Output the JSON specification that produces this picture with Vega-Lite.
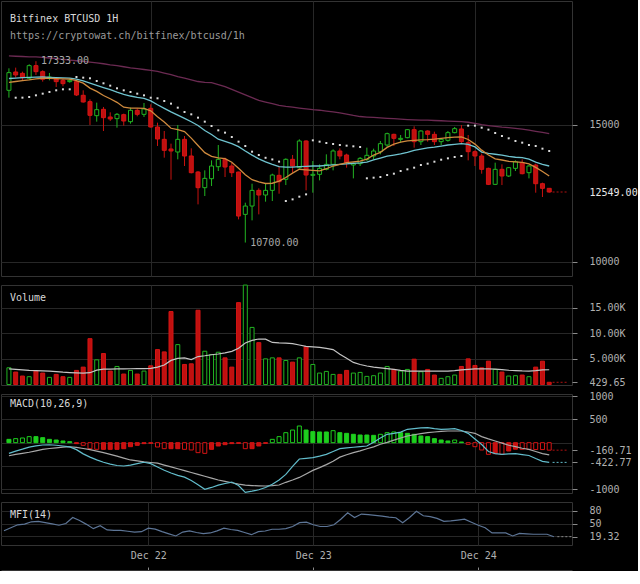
{
"$schema": "https://vega.github.io/schema/vega-lite/v6.json",
"background": "#000000",
"padding": 0,
"spacing": 9,
"bounds": "flush",
"config": {
  "view": {"stroke": "#333333", "strokeWidth": 1},
  "font": "DejaVu Sans Mono",
  "axis": {"gridColor": "#272727", "gridWidth": 1, "labelFont": "DejaVu Sans Mono", "labelFontSize": 10, "labelColor": "#b0b0b0", "tickColor": "#8a8a8a"},
  "title": {"font": "DejaVu Sans Mono", "fontSize": 10, "fontWeight": "normal", "color": "#d8d8d8", "anchor": "start", "frame": "group", "subtitleFont": "DejaVu Sans Mono", "subtitleFontSize": 10, "subtitleColor": "#9a9a9a"}
},
"datasets": {
"ohlc": [
{"t":"2017-12-21T03:00","o":16268,"h":17073,"l":16000,"c":16915,"v":3258,"vma":3050,"ma1":17525,"ma2":16700,"ema":16560,"sar":null,"macd":-230,"sig":-280,"hist":71,"mfi":33},
{"t":"2017-12-21T04:00","o":16939,"h":17098,"l":16732,"c":16830,"v":2420,"vma":2950,"ma1":17515,"ma2":16715,"ema":16590,"sar":15998,"macd":-180,"sig":-250,"hist":86,"mfi":40},
{"t":"2017-12-21T05:00","o":16890,"h":16951,"l":16634,"c":16732,"v":1646,"vma":2850,"ma1":17505,"ma2":16730,"ema":16620,"sar":16000,"macd":-140,"sig":-228,"hist":100,"mfi":47},
{"t":"2017-12-21T06:00","o":16708,"h":17220,"l":16671,"c":17171,"v":1517,"vma":2750,"ma1":17495,"ma2":16740,"ema":16650,"sar":16024,"macd":-95,"sig":-205,"hist":129,"mfi":48.4},
{"t":"2017-12-21T07:00","o":17171,"h":17333,"l":16830,"c":16951,"v":2614,"vma":2700,"ma1":17490,"ma2":16750,"ema":16690,"sar":16085,"macd":-68,"sig":-175,"hist":129,"mfi":54},
{"t":"2017-12-21T08:00","o":16951,"h":17000,"l":16586,"c":16671,"v":2227,"vma":2650,"ma1":17470,"ma2":16755,"ema":16710,"sar":16146,"macd":-50,"sig":-145,"hist":107,"mfi":55},
{"t":"2017-12-21T09:00","o":16708,"h":16903,"l":16634,"c":16756,"v":1388,"vma":2600,"ma1":17450,"ma2":16745,"ema":16705,"sar":16208,"macd":-45,"sig":-125,"hist":71,"mfi":52},
{"t":"2017-12-21T10:00","o":16683,"h":16732,"l":16390,"c":16586,"v":1968,"vma":2500,"ma1":17425,"ma2":16735,"ema":16695,"sar":16268,"macd":-55,"sig":-110,"hist":57,"mfi":49},
{"t":"2017-12-21T11:00","o":16634,"h":16683,"l":16415,"c":16512,"v":1517,"vma":2400,"ma1":17400,"ma2":16725,"ema":16690,"sar":16305,"macd":-72,"sig":-95,"hist":36,"mfi":46},
{"t":"2017-12-21T12:00","o":16586,"h":16708,"l":16549,"c":16634,"v":1388,"vma":2330,"ma1":17375,"ma2":16712,"ema":16680,"sar":16305,"macd":-90,"sig":-88,"hist":21,"mfi":50},
{"t":"2017-12-21T13:00","o":16586,"h":16634,"l":16061,"c":16098,"v":2743,"vma":2270,"ma1":17350,"ma2":16680,"ema":16620,"sar":16756,"macd":-150,"sig":-100,"hist":-21,"mfi":64},
{"t":"2017-12-21T14:00","o":16086,"h":16268,"l":15817,"c":15842,"v":3388,"vma":2230,"ma1":17330,"ma2":16610,"ema":16530,"sar":16732,"macd":-240,"sig":-125,"hist":-57,"mfi":57},
{"t":"2017-12-21T15:00","o":15854,"h":15939,"l":15000,"c":15354,"v":8935,"vma":2300,"ma1":17300,"ma2":16530,"ema":16350,"sar":16708,"macd":-310,"sig":-150,"hist":-129,"mfi":48},
{"t":"2017-12-21T16:00","o":15341,"h":15817,"l":15122,"c":15561,"v":4807,"vma":2800,"ma1":17270,"ma2":16450,"ema":16230,"sar":16610,"macd":-370,"sig":-180,"hist":-143,"mfi":38},
{"t":"2017-12-21T17:00","o":15573,"h":15659,"l":14780,"c":15268,"v":6032,"vma":2980,"ma1":17240,"ma2":16370,"ema":16080,"sar":16525,"macd":-420,"sig":-215,"hist":-143,"mfi":45},
{"t":"2017-12-21T18:00","o":15293,"h":15464,"l":15146,"c":15220,"v":2614,"vma":3000,"ma1":17200,"ma2":16290,"ema":15960,"sar":16439,"macd":-460,"sig":-250,"hist":-143,"mfi":35},
{"t":"2017-12-21T19:00","o":15232,"h":15439,"l":14902,"c":15390,"v":3516,"vma":3030,"ma1":17170,"ma2":16200,"ema":15830,"sar":16342,"macd":-490,"sig":-290,"hist":-143,"mfi":34},
{"t":"2017-12-21T20:00","o":15378,"h":15415,"l":14976,"c":15146,"v":2033,"vma":3060,"ma1":17130,"ma2":16120,"ema":15650,"sar":16268,"macd":-500,"sig":-330,"hist":-129,"mfi":34},
{"t":"2017-12-21T21:00","o":15122,"h":15634,"l":15049,"c":15537,"v":2743,"vma":3070,"ma1":17090,"ma2":16060,"ema":15620,"sar":16208,"macd":-480,"sig":-371,"hist":-86,"mfi":32},
{"t":"2017-12-21T22:00","o":15537,"h":15610,"l":15317,"c":15390,"v":2033,"vma":3090,"ma1":17060,"ma2":16010,"ema":15615,"sar":16146,"macd":-450,"sig":-390,"hist":-57,"mfi":30},
{"t":"2017-12-21T23:00","o":15390,"h":15805,"l":15293,"c":15585,"v":2614,"vma":3110,"ma1":17030,"ma2":15970,"ema":15610,"sar":16085,"macd":-420,"sig":-410,"hist":-21,"mfi":31},
{"t":"2017-12-22T00:00","o":15610,"h":15756,"l":14902,"c":14927,"v":3646,"vma":3130,"ma1":17000,"ma2":15880,"ema":15520,"sar":15998,"macd":-450,"sig":-425,"hist":-14,"mfi":39},
{"t":"2017-12-22T01:00","o":14927,"h":15085,"l":14232,"c":14488,"v":6806,"vma":3400,"ma1":16960,"ma2":15740,"ema":15300,"sar":15976,"macd":-520,"sig":-440,"hist":-93,"mfi":37},
{"t":"2017-12-22T02:00","o":14475,"h":14780,"l":13805,"c":14073,"v":6355,"vma":3800,"ma1":16900,"ma2":15610,"ema":15110,"sar":15878,"macd":-590,"sig":-480,"hist":-129,"mfi":31},
{"t":"2017-12-22T03:00","o":14122,"h":14317,"l":12999,"c":14049,"v":14224,"vma":4700,"ma1":16840,"ma2":15480,"ema":14880,"sar":15781,"macd":-650,"sig":-520,"hist":-129,"mfi":26},
{"t":"2017-12-22T04:00","o":14012,"h":15000,"l":13744,"c":14475,"v":7774,"vma":5100,"ma1":16770,"ma2":15360,"ema":14830,"sar":15634,"macd":-700,"sig":-560,"hist":-129,"mfi":21},
{"t":"2017-12-22T05:00","o":14475,"h":14597,"l":13500,"c":13866,"v":3904,"vma":5194,"ma1":16710,"ma2":15240,"ema":14760,"sar":15476,"macd":-740,"sig":-600,"hist":-143,"mfi":30},
{"t":"2017-12-22T06:00","o":13866,"h":14146,"l":13231,"c":13256,"v":4033,"vma":4850,"ma1":16650,"ma2":15120,"ema":14520,"sar":15390,"macd":-810,"sig":-640,"hist":-157,"mfi":32.6},
{"t":"2017-12-22T07:00","o":13280,"h":13317,"l":12097,"c":12707,"v":14482,"vma":5450,"ma1":16590,"ma2":14980,"ema":14250,"sar":15268,"macd":-900,"sig":-680,"hist":-214,"mfi":29},
{"t":"2017-12-22T08:00","o":12707,"h":13341,"l":12402,"c":13048,"v":6484,"vma":5600,"ma1":16560,"ma2":14800,"ema":13990,"sar":15122,"macd":-1000,"sig":-720,"hist":-229,"mfi":26.3},
{"t":"2017-12-22T09:00","o":13036,"h":13707,"l":12768,"c":13500,"v":5839,"vma":5800,"ma1":16550,"ma2":14650,"ema":13850,"sar":14963,"macd":-960,"sig":-760,"hist":-143,"mfi":28},
{"t":"2017-12-22T10:00","o":13475,"h":14268,"l":13317,"c":13744,"v":6290,"vma":5950,"ma1":16480,"ma2":14480,"ema":13800,"sar":14805,"macd":-910,"sig":-800,"hist":-71,"mfi":33},
{"t":"2017-12-22T11:00","o":13744,"h":13805,"l":13097,"c":13463,"v":5194,"vma":6150,"ma1":16400,"ma2":14400,"ema":13770,"sar":14720,"macd":-875,"sig":-830,"hist":-43,"mfi":39},
{"t":"2017-12-22T12:00","o":13500,"h":13622,"l":13097,"c":13256,"v":3388,"vma":6450,"ma1":16300,"ma2":14320,"ema":13640,"sar":14561,"macd":-845,"sig":-860,"hist":-21,"mfi":36},
{"t":"2017-12-22T13:00","o":13280,"h":13292,"l":11548,"c":11670,"v":15965,"vma":7050,"ma1":16200,"ma2":14210,"ema":13420,"sar":14390,"macd":-920,"sig":-890,"hist":-14,"mfi":34},
{"t":"2017-12-22T14:00","o":11731,"h":12158,"l":10700,"c":12036,"v":19384,"vma":8100,"ma1":16100,"ma2":14050,"ema":13180,"sar":14232,"macd":-1065,"sig":-912,"hist":-129,"mfi":29},
{"t":"2017-12-22T15:00","o":12036,"h":12853,"l":11512,"c":12609,"v":11128,"vma":8600,"ma1":16000,"ma2":13900,"ema":13000,"sar":14024,"macd":-1040,"sig":-920,"hist":-129,"mfi":24},
{"t":"2017-12-22T16:00","o":12609,"h":12683,"l":11731,"c":12439,"v":8160,"vma":8870,"ma1":15900,"ma2":13760,"ema":12920,"sar":13902,"macd":-1010,"sig":-926,"hist":-71,"mfi":31},
{"t":"2017-12-22T17:00","o":12439,"h":12853,"l":12195,"c":12609,"v":5000,"vma":8830,"ma1":15840,"ma2":13650,"ema":12860,"sar":13800,"macd":-960,"sig":-929,"hist":-14,"mfi":32.6},
{"t":"2017-12-22T18:00","o":12609,"h":13219,"l":12219,"c":13170,"v":5194,"vma":8200,"ma1":15780,"ma2":13560,"ema":12870,"sar":13740,"macd":-890,"sig":-920,"hist":71,"mfi":36.6},
{"t":"2017-12-22T19:00","o":13158,"h":13500,"l":12487,"c":12926,"v":5194,"vma":8100,"ma1":15720,"ma2":13480,"ema":12950,"sar":13660,"macd":-800,"sig":-907,"hist":129,"mfi":36.6},
{"t":"2017-12-22T20:00","o":13012,"h":13780,"l":12804,"c":13744,"v":4678,"vma":8050,"ma1":15680,"ma2":13460,"ema":13080,"sar":12219,"macd":-680,"sig":-850,"hist":214,"mfi":38},
{"t":"2017-12-22T21:00","o":13744,"h":13902,"l":13256,"c":13500,"v":4355,"vma":7950,"ma1":15650,"ma2":13460,"ema":13240,"sar":12280,"macd":-510,"sig":-800,"hist":271,"mfi":43},
{"t":"2017-12-22T22:00","o":13439,"h":14476,"l":13414,"c":14415,"v":5194,"vma":7700,"ma1":15620,"ma2":13480,"ema":13380,"sar":12378,"macd":-350,"sig":-745,"hist":357,"mfi":52},
{"t":"2017-12-22T23:00","o":14415,"h":14439,"l":12609,"c":13170,"v":7387,"vma":7450,"ma1":15590,"ma2":13490,"ema":13360,"sar":12463,"macd":-335,"sig":-670,"hist":271,"mfi":53},
{"t":"2017-12-23T00:00","o":13158,"h":13683,"l":12524,"c":13195,"v":3904,"vma":7350,"ma1":15560,"ma2":13500,"ema":13340,"sar":14439,"macd":-322,"sig":-595,"hist":236,"mfi":47},
{"t":"2017-12-23T01:00","o":13195,"h":13561,"l":12975,"c":13414,"v":2227,"vma":7220,"ma1":15540,"ma2":13500,"ema":13320,"sar":14390,"macd":-290,"sig":-535,"hist":229,"mfi":43},
{"t":"2017-12-23T02:00","o":13378,"h":13927,"l":13341,"c":13561,"v":2549,"vma":7050,"ma1":15510,"ma2":13520,"ema":13400,"sar":14341,"macd":-250,"sig":-470,"hist":229,"mfi":43},
{"t":"2017-12-23T03:00","o":13561,"h":14110,"l":13341,"c":14049,"v":1968,"vma":6800,"ma1":15480,"ma2":13540,"ema":13500,"sar":14305,"macd":-190,"sig":-400,"hist":257,"mfi":47},
{"t":"2017-12-23T04:00","o":14049,"h":14146,"l":13744,"c":13866,"v":1968,"vma":5900,"ma1":15440,"ma2":13560,"ema":13560,"sar":14268,"macd":-128,"sig":-310,"hist":214,"mfi":60},
{"t":"2017-12-23T05:00","o":13902,"h":13951,"l":13439,"c":13622,"v":2743,"vma":5100,"ma1":15400,"ma2":13580,"ema":13620,"sar":14244,"macd":-110,"sig":-260,"hist":200,"mfi":75},
{"t":"2017-12-23T06:00","o":13536,"h":13622,"l":13048,"c":13585,"v":2227,"vma":4300,"ma1":15350,"ma2":13600,"ema":13650,"sar":14220,"macd":-98,"sig":-215,"hist":179,"mfi":64},
{"t":"2017-12-23T07:00","o":13585,"h":13829,"l":13500,"c":13780,"v":2355,"vma":3900,"ma1":15310,"ma2":13615,"ema":13680,"sar":14195,"macd":-85,"sig":-175,"hist":164,"mfi":72},
{"t":"2017-12-23T08:00","o":13744,"h":14171,"l":13683,"c":13890,"v":1581,"vma":3600,"ma1":15290,"ma2":13640,"ema":13750,"sar":13050,"macd":-71,"sig":-130,"hist":164,"mfi":70.5},
{"t":"2017-12-23T09:00","o":13866,"h":14134,"l":13744,"c":14049,"v":1710,"vma":3400,"ma1":15275,"ma2":13720,"ema":13900,"sar":13073,"macd":10,"sig":-90,"hist":157,"mfi":69},
{"t":"2017-12-23T10:00","o":14024,"h":14415,"l":13927,"c":14317,"v":2227,"vma":3250,"ma1":15260,"ma2":13790,"ema":14000,"sar":13097,"macd":100,"sig":-35,"hist":179,"mfi":67},
{"t":"2017-12-23T11:00","o":14268,"h":14720,"l":14195,"c":14683,"v":3516,"vma":3100,"ma1":15245,"ma2":13860,"ema":14180,"sar":13170,"macd":179,"sig":5,"hist":214,"mfi":65},
{"t":"2017-12-23T12:00","o":14658,"h":14683,"l":14232,"c":14512,"v":2936,"vma":2950,"ma1":15230,"ma2":13900,"ema":14300,"sar":13219,"macd":200,"sig":55,"hist":229,"mfi":63.4},
{"t":"2017-12-23T13:00","o":14475,"h":14634,"l":14354,"c":14512,"v":2614,"vma":2750,"ma1":15215,"ma2":13940,"ema":14370,"sar":13317,"macd":225,"sig":100,"hist":214,"mfi":51.6},
{"t":"2017-12-23T14:00","o":14536,"h":14854,"l":14512,"c":14829,"v":2936,"vma":2620,"ma1":15200,"ma2":14000,"ema":14420,"sar":13378,"macd":286,"sig":143,"hist":200,"mfi":64},
{"t":"2017-12-23T15:00","o":14829,"h":14951,"l":14171,"c":14390,"v":4936,"vma":2614,"ma1":15190,"ma2":14070,"ema":14440,"sar":13439,"macd":300,"sig":170,"hist":179,"mfi":78.4},
{"t":"2017-12-23T16:00","o":14390,"h":14805,"l":14268,"c":14780,"v":2485,"vma":2614,"ma1":15180,"ma2":14120,"ema":14455,"sar":13536,"macd":315,"sig":195,"hist":143,"mfi":68},
{"t":"2017-12-23T17:00","o":14780,"h":14805,"l":14390,"c":14658,"v":2936,"vma":2614,"ma1":15175,"ma2":14160,"ema":14462,"sar":13585,"macd":321,"sig":214,"hist":129,"mfi":66},
{"t":"2017-12-23T18:00","o":14658,"h":14756,"l":14268,"c":14390,"v":1839,"vma":2614,"ma1":15165,"ma2":14190,"ema":14480,"sar":13658,"macd":300,"sig":228,"hist":86,"mfi":62},
{"t":"2017-12-23T19:00","o":14390,"h":14512,"l":14268,"c":14475,"v":1194,"vma":2614,"ma1":15155,"ma2":14230,"ema":14510,"sar":13731,"macd":285,"sig":240,"hist":57,"mfi":55},
{"t":"2017-12-23T20:00","o":14439,"h":14780,"l":14390,"c":14720,"v":1517,"vma":2620,"ma1":15145,"ma2":14268,"ema":14536,"sar":13780,"macd":292,"sig":250,"hist":36,"mfi":56},
{"t":"2017-12-23T21:00","o":14720,"h":14927,"l":14695,"c":14866,"v":1839,"vma":2700,"ma1":15135,"ma2":14290,"ema":14555,"sar":13829,"macd":300,"sig":250,"hist":57,"mfi":58},
{"t":"2017-12-23T22:00","o":14854,"h":15000,"l":14341,"c":14390,"v":3516,"vma":2850,"ma1":15122,"ma2":14316,"ema":14561,"sar":13866,"macd":260,"sig":250,"hist":14,"mfi":60},
{"t":"2017-12-23T23:00","o":14354,"h":14634,"l":13707,"c":14024,"v":5000,"vma":2950,"ma1":15100,"ma2":14290,"ema":14470,"sar":14976,"macd":200,"sig":228,"hist":-36,"mfi":53},
{"t":"2017-12-24T00:00","o":14024,"h":14073,"l":13500,"c":13866,"v":3710,"vma":3040,"ma1":15060,"ma2":14200,"ema":14300,"sar":14976,"macd":80,"sig":200,"hist":-86,"mfi":46},
{"t":"2017-12-24T01:00","o":13866,"h":13951,"l":13219,"c":13378,"v":3258,"vma":3060,"ma1":15010,"ma2":14010,"ema":14080,"sar":14902,"macd":-40,"sig":130,"hist":-157,"mfi":40},
{"t":"2017-12-24T02:00","o":13414,"h":13439,"l":12804,"c":12829,"v":4549,"vma":3030,"ma1":14980,"ma2":13960,"ema":13900,"sar":14829,"macd":-190,"sig":80,"hist":-250,"mfi":28},
{"t":"2017-12-24T03:00","o":12829,"h":13622,"l":12804,"c":13378,"v":2936,"vma":3000,"ma1":14950,"ma2":13930,"ema":13760,"sar":14707,"macd":-235,"sig":35,"hist":-236,"mfi":28},
{"t":"2017-12-24T04:00","o":13378,"h":13561,"l":12804,"c":13134,"v":2420,"vma":2900,"ma1":14920,"ma2":13900,"ema":13720,"sar":14597,"macd":-250,"sig":-10,"hist":-250,"mfi":28},
{"t":"2017-12-24T05:00","o":13134,"h":13463,"l":13097,"c":13439,"v":1646,"vma":2780,"ma1":14900,"ma2":13850,"ema":13670,"sar":14512,"macd":-240,"sig":-55,"hist":-179,"mfi":21},
{"t":"2017-12-24T06:00","o":13414,"h":13707,"l":13317,"c":13658,"v":1710,"vma":2700,"ma1":14880,"ma2":13820,"ema":13650,"sar":14415,"macd":-236,"sig":-85,"hist":-140,"mfi":27},
{"t":"2017-12-24T07:00","o":13622,"h":13744,"l":13195,"c":13219,"v":1839,"vma":2640,"ma1":14850,"ma2":13805,"ema":13630,"sar":14354,"macd":-255,"sig":-120,"hist":-142,"mfi":26},
{"t":"2017-12-24T08:00","o":13256,"h":13536,"l":13048,"c":13500,"v":1517,"vma":2620,"ma1":14810,"ma2":13750,"ema":13580,"sar":14268,"macd":-275,"sig":-145,"hist":-144,"mfi":25},
{"t":"2017-12-24T09:00","o":13536,"h":13585,"l":12524,"c":12853,"v":3388,"vma":2720,"ma1":14770,"ma2":13640,"ema":13450,"sar":14232,"macd":-340,"sig":-190,"hist":-146,"mfi":25},
{"t":"2017-12-24T10:00","o":12853,"h":12890,"l":12366,"c":12683,"v":4549,"vma":2860,"ma1":14730,"ma2":13560,"ema":13300,"sar":14134,"macd":-400,"sig":-235,"hist":-148,"mfi":25},
{"t":"2017-12-24T11:00","o":12683,"h":12683,"l":12524,"c":12549,"v":429.65,"vma":2870,"ma1":14683,"ma2":13500,"ema":13134,"sar":14049,"macd":-422.77,"sig":-262,"hist":-160.71,"mfi":19.32}
],
"ann": [
{"t":"2017-12-21T07:00","p":17333,"label":"17333.00"},
{"t":"2017-12-22T14:00","p":10700,"label":"10700.00"}
],
"last": [
{"t":"2017-12-24T11:30","t2":"2017-12-24T13:38","price":12549,"vol":429.65,"hist":-160.71,"macd":-422.77,"mfi":19.32}
]
},
"vconcat": [
{
  "width": 571, "height": 275,
  "title": {"text": "Bitfinex BTCUSD 1H", "subtitle": "https://cryptowat.ch/bitfinex/btcusd/1h", "offset": -40, "dx": 9, "subtitlePadding": 7},
  "data": {"name": "ohlc"},
  "encoding": {"x": {"field": "t", "type": "temporal", "scale": {"domain": [{"year":2017,"month":12,"date":21,"hours":2,"minutes":34},{"year":2017,"month":12,"date":24,"hours":13,"minutes":38}]}, "axis": {"values": [{"year":2017,"month":12,"date":22},{"year":2017,"month":12,"date":23},{"year":2017,"month":12,"date":24}], "labels": false, "ticks": false, "domain": false, "grid": true, "title": null}}},
  "layer": [
    {"mark": {"type": "line", "color": "#6b2a52", "strokeWidth": 1.3},
     "encoding": {"y": {"field": "ma1", "type": "quantitative", "scale": {"domain": [9477, 19535], "nice": false, "zero": false}, "axis": {"orient": "left", "values": [10000, 15000], "grid": true, "labels": false, "ticks": false, "domain": false, "title": null, "minExtent": 0, "maxExtent": 0}}}},
    {"mark": {"type": "rule", "strokeWidth": 1},
     "encoding": {"y": {"field": "l", "type": "quantitative", "scale": {"domain": [9477, 19535], "nice": false, "zero": false}, "axis": {"orient": "right", "values": [10000, 12549, 15000], "grid": false, "ticks": true, "tickSize": 5, "labelPadding": 12, "domain": false, "title": null, "labelFlush": false, "labelOverlap": false, "labelExpr": "datum.value == 12549 ? '12549.00' : format(datum.value, 'd')", "labelColor": {"condition": {"test": "datum.value == 12549", "value": "#e8e8e8"}, "value": "#b0b0b0"}, "tickOpacity": {"condition": {"test": "datum.value == 12549", "value": 0}, "value": 1}}},
                  "y2": {"field": "h"},
                  "color": {"condition": {"test": "datum.c >= datum.o", "value": "#22b422"}, "value": "#c8120f"}}},
    {"mark": {"type": "bar", "size": 4, "strokeWidth": 1},
     "encoding": {"y": {"field": "o", "type": "quantitative", "scale": {"domain": [9477, 19535], "nice": false, "zero": false}, "axis": null},
                  "y2": {"field": "c"},
                  "fill": {"condition": {"test": "datum.c >= datum.o", "value": "#000000"}, "value": "#c0100f"},
                  "stroke": {"condition": {"test": "datum.c >= datum.o", "value": "#22b422"}, "value": "#d41414"}}},
    {"mark": {"type": "line", "color": "#6fc3cf", "strokeWidth": 1.3},
     "encoding": {"y": {"field": "ma2", "type": "quantitative", "scale": {"domain": [9477, 19535], "nice": false, "zero": false}, "axis": null}}},
    {"mark": {"type": "line", "color": "#cf8a3e", "strokeWidth": 1.3},
     "encoding": {"y": {"field": "ema", "type": "quantitative", "scale": {"domain": [9477, 19535], "nice": false, "zero": false}, "axis": null}}},
    {"mark": {"type": "square", "size": 4, "color": "#dcdcdc", "opacity": 1, "filled": true},
     "encoding": {"y": {"field": "sar", "type": "quantitative", "scale": {"domain": [9477, 19535], "nice": false, "zero": false}, "axis": null}}},
    {"data": {"name": "ann"},
     "mark": {"type": "text", "align": "left", "baseline": "middle", "dx": 5, "color": "#a8a8a8", "font": "DejaVu Sans Mono", "fontSize": 10},
     "encoding": {"y": {"field": "p", "type": "quantitative", "scale": {"domain": [9477, 19535], "nice": false, "zero": false}, "axis": null}, "text": {"field": "label"}}},
    {"data": {"name": "last"},
     "mark": {"type": "rule", "strokeDash": [2, 2], "color": "#b01010"},
     "encoding": {"x2": {"field": "t2"}, "y": {"field": "price", "type": "quantitative", "scale": {"domain": [9477, 19535], "nice": false, "zero": false}, "axis": null}}}
  ]
},
{
  "width": 571, "height": 100,
  "title": {"text": "Volume", "offset": -18, "dx": 9},
  "data": {"name": "ohlc"},
  "encoding": {"x": {"field": "t", "type": "temporal", "scale": {"domain": [{"year":2017,"month":12,"date":21,"hours":2,"minutes":34},{"year":2017,"month":12,"date":24,"hours":13,"minutes":38}]}, "axis": {"values": [{"year":2017,"month":12,"date":22},{"year":2017,"month":12,"date":23},{"year":2017,"month":12,"date":24}], "labels": false, "ticks": false, "domain": false, "grid": true, "title": null}}},
  "layer": [
    {"mark": {"type": "bar", "size": 4, "strokeWidth": 1},
     "encoding": {"y": {"field": "v", "type": "quantitative", "scale": {"domain": [-100, 19400], "nice": false, "zero": false}, "axis": {"orient": "left", "values": [5000, 10000, 15000], "grid": true, "labels": false, "ticks": false, "domain": false, "title": null, "minExtent": 0, "maxExtent": 0}},
                  "y2": {"datum": 0},
                  "fill": {"condition": {"test": "datum.c >= datum.o", "value": "#000000"}, "value": "#c0100f"},
                  "stroke": {"condition": {"test": "datum.c >= datum.o", "value": "#22b422"}, "value": "#d41414"}}},
    {"mark": {"type": "line", "color": "#c4c4c4", "strokeWidth": 1.2},
     "encoding": {"y": {"field": "vma", "type": "quantitative", "scale": {"domain": [-100, 19400], "nice": false, "zero": false}, "axis": {"orient": "right", "values": [429.65, 5000, 10000, 15000], "grid": false, "ticks": true, "tickSize": 5, "labelPadding": 12, "domain": false, "title": null, "labelFlush": false, "labelOverlap": false, "labelExpr": "datum.value == 5000 ? '5.000K' : datum.value == 10000 ? '10.00K' : datum.value == 15000 ? '15.00K' : '429.65'"}}}},
    {"data": {"name": "last"},
     "mark": {"type": "rule", "strokeDash": [2, 2], "color": "#b01010"},
     "encoding": {"x2": {"field": "t2"}, "y": {"field": "vol", "type": "quantitative", "scale": {"domain": [-100, 19400], "nice": false, "zero": false}, "axis": null}}}
  ]
},
{
  "width": 571, "height": 99,
  "title": {"text": "MACD(10,26,9)", "offset": -18, "dx": 9},
  "data": {"name": "ohlc"},
  "encoding": {"x": {"field": "t", "type": "temporal", "scale": {"domain": [{"year":2017,"month":12,"date":21,"hours":2,"minutes":34},{"year":2017,"month":12,"date":24,"hours":13,"minutes":38}]}, "axis": {"values": [{"year":2017,"month":12,"date":22},{"year":2017,"month":12,"date":23},{"year":2017,"month":12,"date":24}], "labels": false, "ticks": false, "domain": false, "grid": true, "title": null}}},
  "layer": [
    {"transform": [{"window": [{"op": "lag", "field": "hist", "as": "prev"}], "sort": [{"field": "t"}]}],
     "mark": {"type": "bar", "size": 4, "strokeWidth": 1},
     "encoding": {"y": {"field": "hist", "type": "quantitative", "scale": {"domain": [-1079, 1043], "nice": false, "zero": false}, "axis": {"orient": "left", "values": [-1000, -500, 0, 500, 1000], "grid": true, "labels": false, "ticks": false, "domain": false, "title": null, "minExtent": 0, "maxExtent": 0}},
                  "y2": {"datum": 0},
                  "fill": {"condition": [{"test": "datum.prev != null && abs(datum.hist) > abs(datum.prev)", "value": "#000000"}, {"test": "datum.hist >= 0", "value": "#1ecf1e"}], "value": "#c8100f"},
                  "stroke": {"condition": {"test": "datum.hist >= 0", "value": "#1ecf1e"}, "value": "#d41414"}}},
    {"mark": {"type": "line", "color": "#a8a8a8", "strokeWidth": 1.2},
     "encoding": {"y": {"field": "sig", "type": "quantitative", "scale": {"domain": [-1079, 1043], "nice": false, "zero": false}, "axis": {"orient": "right", "values": [1000, 500, -160.71, -422.77, -1000], "grid": false, "ticks": true, "tickSize": 5, "labelPadding": 12, "domain": false, "title": null, "labelFlush": false, "labelOverlap": false, "labelExpr": "(datum.value < 0 ? '-' : '') + (abs(datum.value) == 1000 || abs(datum.value) == 500 ? format(abs(datum.value), 'd') : format(abs(datum.value), '.2f'))"}}}},
    {"mark": {"type": "line", "color": "#62bccb", "strokeWidth": 1.2},
     "encoding": {"y": {"field": "macd", "type": "quantitative", "scale": {"domain": [-1079, 1043], "nice": false, "zero": false}, "axis": null}}},
    {"data": {"name": "last"},
     "mark": {"type": "rule", "strokeDash": [2, 2], "color": "#b01010"},
     "encoding": {"x2": {"field": "t2"}, "y": {"field": "hist", "type": "quantitative", "scale": {"domain": [-1079, 1043], "nice": false, "zero": false}, "axis": null}}},
    {"data": {"name": "last"},
     "mark": {"type": "rule", "strokeDash": [2, 2], "color": "#62bccb"},
     "encoding": {"x2": {"field": "t2"}, "y": {"field": "macd", "type": "quantitative", "scale": {"domain": [-1079, 1043], "nice": false, "zero": false}, "axis": null}}}
  ]
},
{
  "width": 571, "height": 43,
  "title": {"text": "MFI(14)", "offset": -18, "dx": 9},
  "data": {"name": "ohlc"},
  "encoding": {"x": {"field": "t", "type": "temporal", "scale": {"domain": [{"year":2017,"month":12,"date":21,"hours":2,"minutes":34},{"year":2017,"month":12,"date":24,"hours":13,"minutes":38}]}, "axis": {"values": [{"year":2017,"month":12,"date":22},{"year":2017,"month":12,"date":23},{"year":2017,"month":12,"date":24}], "labels": true, "format": "%b %d", "ticks": true, "tickSize": -3, "tickColor": "#8a8a8a", "domain": true, "domainColor": "#333333", "offset": 25, "grid": true, "title": null, "labelPadding": -12, "labelBaseline": "middle", "labelFlush": false}}},
  "layer": [
    {"mark": {"type": "line", "color": "#5d7596", "strokeWidth": 1.2},
     "encoding": {"y": {"field": "mfi", "type": "quantitative", "scale": {"domain": [0, 100], "nice": false, "zero": false}, "axis": {"orient": "left", "values": [20, 50, 80], "grid": true, "labels": false, "ticks": false, "domain": false, "title": null, "minExtent": 0, "maxExtent": 0}}}},
    {"data": {"name": "last"},
     "mark": {"type": "rule", "strokeDash": [2, 2], "color": "#8a8a8a"},
     "encoding": {"x2": {"field": "t2"}, "y": {"field": "mfi", "type": "quantitative", "scale": {"domain": [0, 100], "nice": false, "zero": false}, "axis": {"orient": "right", "values": [80, 50, 19.32], "grid": false, "ticks": true, "tickSize": 5, "labelPadding": 12, "domain": false, "title": null, "labelFlush": false, "labelOverlap": false, "labelExpr": "datum.value == 19.32 ? '19.32' : format(datum.value, 'd')"}}}}
  ]
}
]
}
